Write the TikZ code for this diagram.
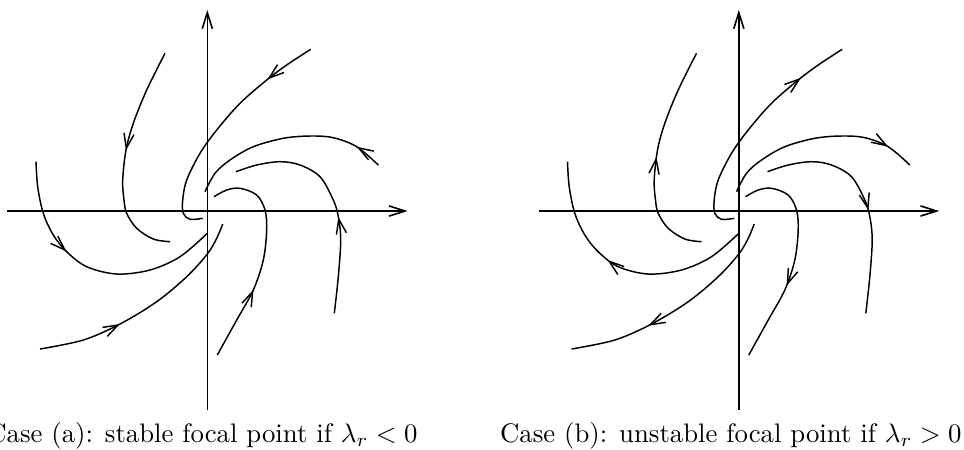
\documentclass[tikz,border=0pt]{standalone}
\usetikzlibrary{arrows.meta,decorations.markings}
\begin{document}
\begin{tikzpicture}[x=0.3735pt,y=-0.3735pt,
  curve/.style={line width=0.55pt},
  axis/.style={line width=0.6pt,-{Straight Barb[length=6pt,width=3.8pt]}},
  fwd/.style={postaction={decorate},decoration={markings,mark=at position #1 with {\arrow{Straight Barb[length=5.5pt,width=3.8pt]}}}},
  caption/.style={anchor=base east,inner sep=0pt,font=\fontsize{10}{12}\selectfont}]
\useasboundingbox (0,0) rectangle (964,449);
% ---------- Panel (a) ----------
\coordinate (aW) at (7,211);   \coordinate (aE) at (407.7,211);
\coordinate (aS) at (207.3,410); \coordinate (aN) at (207.3,10);
\draw[axis] (aW) -- (aE);
\draw[axis] (aS) -- (aN);
\draw[curve,fwd=0.47] plot[smooth,tension=0.55] coordinates {(165,53.3) (146.7,90) (133.3,123.3) (126,150) (122.7,180) (124,200) (126.7,213.3) (136.7,228.3) (153.3,239) (170,241.7)};
\draw[curve,fwd=0.38] plot[smooth,tension=0.55] coordinates {(36,161.7) (37.7,186.7) (43.3,213.3) (53.3,235) (66.7,251.7) (86.7,266.7) (116.7,274) (150,270) (180,256.7) (207.3,233.3)};
\draw[curve,fwd=0.365] plot[smooth,tension=0.55] coordinates {(40,349) (83.3,340) (120,324) (156.7,301.7) (186.7,276.7) (207.3,254) (216.7,238.3) (222.7,224)};
\draw[curve,fwd=0.34] plot[smooth,tension=0.55] coordinates {(217.3,355) (236.7,320) (253.3,290) (263.3,260) (266.7,230) (265,210) (256.7,195) (240,188.3) (226.7,190) (214,196.7)};
\draw[curve,fwd=0.42] plot[smooth,tension=0.55] coordinates {(334.3,313.3) (338.3,276.7) (340.7,240) (338.3,216.7) (333.3,200) (320,176.7) (300,165) (280,161.7) (256.7,165) (236,171.7)};
\draw[curve,fwd=0.14] plot[smooth,tension=0.55] coordinates {(378.3,165) (356.7,146.7) (333.3,137.7) (310,136) (283.3,138.3) (253.3,146.7) (230,160) (215,173.3) (205,191.7)};
\draw[curve,fwd=0.22] plot[smooth,tension=0.55] coordinates {(310.7,49.3) (286.7,65) (266.7,80) (240,103.3) (216.7,130) (200,153.3) (186.7,180) (182.7,200) (183.3,213.3) (190,219.3) (202.7,218.3)};
\node[caption] (capa) at (418,442) {Case (a): stable focal point if $\lambda_r < 0$};
% ---------- Panel (b) ----------
\begin{scope}[shift={(531.5,0)}]
\coordinate (bW) at (7,211);   \coordinate (bE) at (407.7,211);
\coordinate (bS) at (207.3,410); \coordinate (bN) at (207.3,10);
\draw[axis] (bW) -- (bE);
\draw[axis] (bS) -- (bN);
\draw[curve,fwd=0.50] plot[smooth,tension=0.55] coordinates {(170,241.7) (153.3,239) (136.7,228.3) (126.7,213.3) (124,200) (122.7,180) (126,150) (133.3,123.3) (146.7,90) (165,53.3)};
\draw[curve,fwd=0.57] plot[smooth,tension=0.55] coordinates {(207.3,233.3) (180,256.7) (150,270) (116.7,274) (86.7,266.7) (66.7,251.7) (53.3,235) (43.3,213.3) (37.7,186.7) (36,161.7)};
\draw[curve,fwd=0.65] plot[smooth,tension=0.55] coordinates {(222.7,224) (216.7,238.3) (207.3,254) (186.7,276.7) (156.7,301.7) (120,324) (83.3,340) (40,349)};
\draw[curve,fwd=0.64] plot[smooth,tension=0.55] coordinates {(214,196.7) (226.7,190) (240,188.3) (256.7,195) (265,210) (266.7,230) (263.3,260) (253.3,290) (236.7,320) (217.3,355)};
\draw[curve,fwd=0.55] plot[smooth,tension=0.55] coordinates {(236,171.7) (256.7,165) (280,161.7) (300,165) (320,176.7) (333.3,200) (338.3,216.7) (340.7,240) (338.3,276.7) (334.3,313.3)};
\draw[curve,fwd=0.86] plot[smooth,tension=0.55] coordinates {(205,191.7) (215,173.3) (230,160) (253.3,146.7) (283.3,138.3) (310,136) (333.3,137.7) (356.7,146.7) (378.3,165)};
\draw[curve,fwd=0.79] plot[smooth,tension=0.55] coordinates {(202.7,218.3) (190,219.3) (183.3,213.3) (182.7,200) (186.7,180) (200,153.3) (216.7,130) (240,103.3) (266.7,80) (286.7,65) (310.7,49.3)};
\end{scope}
\node[caption] (capb) at (962,442) {Case (b): unstable focal point if $\lambda_r > 0$};
\end{tikzpicture}
\end{document}
